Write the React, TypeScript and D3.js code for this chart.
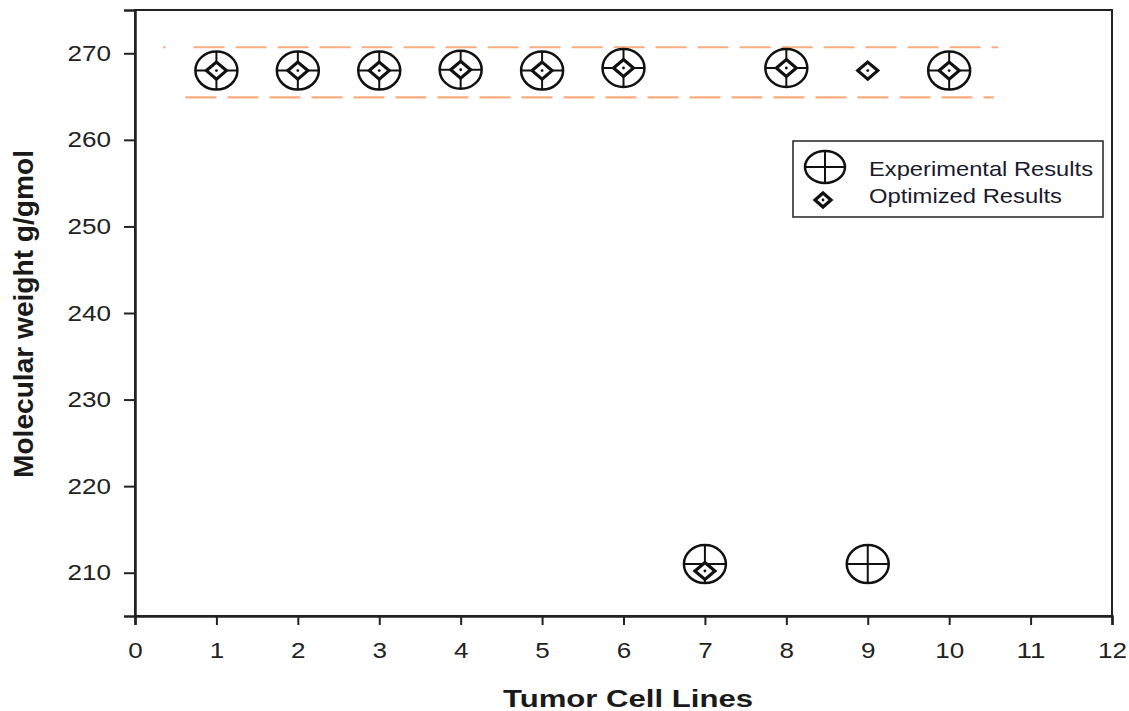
import * as d3 from 'd3'
import { useRef, useEffect } from 'react'

const cellLines = [1, 2, 3, 4, 5, 6, 7, 8, 9, 10]
const experimental = [268, 268, 268, 268.1, 268, 268.3, 211, 268.3, 211, 268]
const optimized = [268, 268, 268, 268.1, 268, 268.3, 210.2, 268.3, 268, 268]
const xTicks = [0, 1, 2, 3, 4, 5, 6, 7, 8, 9, 10, 11, 12]
const yTicks = [210, 220, 230, 240, 250, 260, 270]
// dashed bounds: [value, xStart, xEnd]
const bounds = [
  [270.7, 0.72, 10.6],
  [264.9, 0.62, 10.55],
]

export default function App() {
  const svgRef = useRef<SVGSVGElement>(null)
  const width = 1129
  const height = 711

  useEffect(() => {
    const svg = d3.select(svgRef.current)
    svg.selectAll('*').remove()

    const margin = { top: 10, right: 17, bottom: 95, left: 135 }
    const innerWidth = width - margin.left - margin.right
    const innerHeight = height - margin.top - margin.bottom

    const x = d3.scaleLinear().domain([0, 12]).range([0, innerWidth])
    const y = d3.scaleLinear().domain([205, 275]).range([innerHeight, 0])

    const g = svg.append('g').attr('transform', `translate(${margin.left},${margin.top})`)
    const font = 'Liberation Sans, Arial, sans-serif'

    // frame
    g.append('rect')
      .attr('width', innerWidth)
      .attr('height', innerHeight)
      .attr('fill', 'none')
      .attr('stroke', '#222')
      .attr('stroke-width', 2)

    const xAxis = g.append('g')
      .attr('transform', `translate(0,${innerHeight})`)
      .call(d3.axisBottom(x).tickValues(xTicks).tickSize(9).tickPadding(17).tickFormat(d3.format('d')))
    const yAxis = g.append('g')
      .call(d3.axisLeft(y).tickValues(yTicks).tickSize(11).tickPadding(13))
    for (const ax of [xAxis, yAxis]) {
      ax.select('.domain').attr('stroke', '#222').attr('stroke-width', 2.5)
      ax.selectAll('.tick line').attr('stroke', '#222').attr('stroke-width', 2)
      ax.selectAll('.tick text')
        .attr('fill', '#222')
        .style('font-family', font)
        .style('font-size', '22px')
        .attr('textLength', (d: any) => String(d).length * 14.5)
        .attr('lengthAdjust', 'spacingAndGlyphs')
    }

    // dashed bounds
    g.selectAll('.bound')
      .data(bounds)
      .join('line')
      .attr('x1', d => x(d[1]))
      .attr('x2', d => x(d[2]))
      .attr('y1', d => y(d[0]))
      .attr('y2', d => y(d[0]))
      .attr('stroke', '#f9ad80')
      .attr('stroke-width', 2.2)
      .attr('stroke-dasharray', '31,11')
    g.append('circle')
      .attr('cx', x(0.36))
      .attr('cy', y(bounds[0][0]))
      .attr('r', 1.2)
      .attr('fill', '#f9ad80')

    const drawCircle = (sel: any, rx: number, ry: number) => {
      sel.append('ellipse').attr('rx', rx).attr('ry', ry).attr('fill', 'none').attr('stroke', '#111').attr('stroke-width', 2.5)
      sel.append('line').attr('x1', -rx).attr('x2', rx).attr('stroke', '#111').attr('stroke-width', 2)
      sel.append('line').attr('y1', -ry).attr('y2', ry).attr('stroke', '#111').attr('stroke-width', 2)
    }
    const drawDiamond = (sel: any, rx: number, ry: number) => {
      sel.append('path')
        .attr('d', `M0,${-ry}L${rx},0L0,${ry}L${-rx},0Z`)
        .attr('fill', 'white')
        .attr('stroke', '#111')
        .attr('stroke-width', 3.2)
      sel.append('circle').attr('r', 1.4).attr('fill', '#111')
    }

    cellLines.forEach((c, i) => {
      const ge = g.append('g').attr('transform', `translate(${x(c)},${y(experimental[i])})`)
      drawCircle(ge, 21, 19)
      const go = g.append('g').attr('transform', `translate(${x(c)},${y(optimized[i])})`)
      drawDiamond(go, 10, 8.5)
    })

    // legend
    const lg = svg.append('g').attr('transform', 'translate(793,141)')
    lg.append('rect').attr('width', 310).attr('height', 76).attr('fill', 'white').attr('stroke', '#222').attr('stroke-width', 1.5)
    drawCircle(lg.append('g').attr('transform', 'translate(32,26)'), 20, 16)
    drawDiamond(lg.append('g').attr('transform', 'translate(30,59)'), 8, 7)
    lg.append('text').attr('x', 76).attr('y', 35).text('Experimental Results')
      .style('font-family', font).style('font-size', '21px').attr('fill', '#1a1a2e')
      .attr('textLength', 224).attr('lengthAdjust', 'spacingAndGlyphs')
    lg.append('text').attr('x', 76).attr('y', 62).text('Optimized Results')
      .style('font-family', font).style('font-size', '21px').attr('fill', '#1a1a2e')
      .attr('textLength', 193).attr('lengthAdjust', 'spacingAndGlyphs')

    // axis titles
    svg.append('text')
      .attr('x', 628).attr('y', 707)
      .attr('text-anchor', 'middle')
      .style('font-family', font).style('font-size', '23px').style('font-weight', 'bold')
      .attr('fill', '#1a1a1a')
      .attr('textLength', 250).attr('lengthAdjust', 'spacingAndGlyphs')
      .text('Tumor Cell Lines')
    svg.append('text')
      .attr('transform', `translate(33,${314}) rotate(-90)`)
      .attr('text-anchor', 'middle')
      .style('font-family', font).style('font-size', '27px').style('font-weight', 'bold')
      .attr('fill', '#1a1a1a')
      .attr('textLength', 328).attr('lengthAdjust', 'spacingAndGlyphs')
      .text('Molecular weight g/gmol')
  }, [])

  return (
    <svg ref={svgRef} width={width} height={height} style={{ position: 'absolute', left: 0, top: 0, background: 'white' }} />
  )
}
